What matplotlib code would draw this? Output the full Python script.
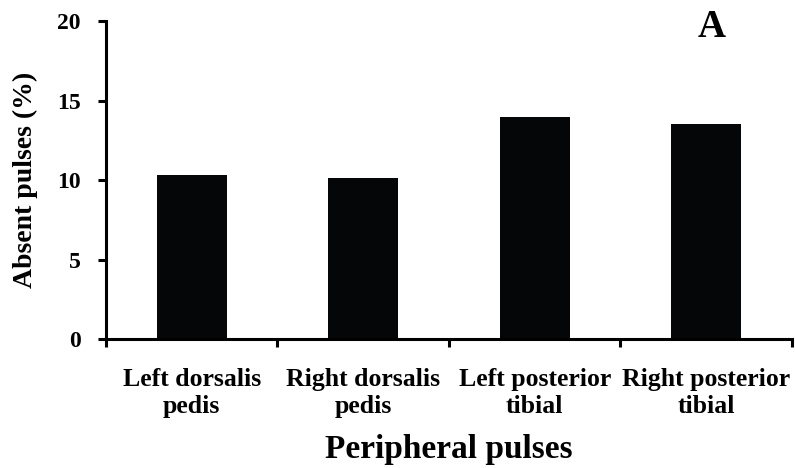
import matplotlib
matplotlib.use("Agg")
import matplotlib.pyplot as plt
import numpy as np

categories = ["Left dorsalis\npedis", "Right dorsalis\npedis", "Left posterior\ntibial", "Right posterior\ntibial"]
values = [10.3, 10.15, 13.95, 13.5]
yticks = [0, 5, 10, 15, 20]

plt.rcParams['font.family'] = ['Liberation Serif', 'DejaVu Serif']
plt.rcParams['font.weight'] = 'bold'

fig = plt.figure(figsize=(7.95, 4.68), dpi=100)
ax = fig.add_axes([0.1333, 0.2756, 0.8629, 0.6795])

x = np.arange(len(categories))
ax.bar(x, values, width=0.41, color='#050608', zorder=2)

ax.set_xlim(-0.5, len(categories) - 0.5)
ax.set_ylim(0, 20)
ax.set_yticks(yticks)
ax.set_yticklabels([str(v) for v in yticks], fontsize=17, fontweight='bold')

ax.set_xticks(np.arange(len(categories) + 1) - 0.5)
ax.set_xticklabels([])
ax.set_xticks(x, minor=True)
ax.set_xticklabels(categories, minor=True, fontsize=18.5, fontweight='bold', linespacing=1.2)
ax.tick_params(axis='x', which='minor', length=0, pad=21)
ax.tick_params(axis='x', which='major', length=6, width=2.2, direction='out')
ax.tick_params(axis='y', length=6, width=2.2, direction='out', pad=12)

for s in ['top', 'right']:
    ax.spines[s].set_visible(False)
for s in ['left', 'bottom']:
    ax.spines[s].set_linewidth(2.2)

ax.set_ylabel("Absent pulses (%)", fontsize=20, fontweight='bold', labelpad=14)
ax.set_xlabel("Peripheral pulses", fontsize=24, fontweight='bold', labelpad=12)

fig.text(712/795, 1 - 37/468, "A", fontsize=28, fontweight='bold', ha='center', va='baseline')

fig.savefig("out.png", dpi=100)
